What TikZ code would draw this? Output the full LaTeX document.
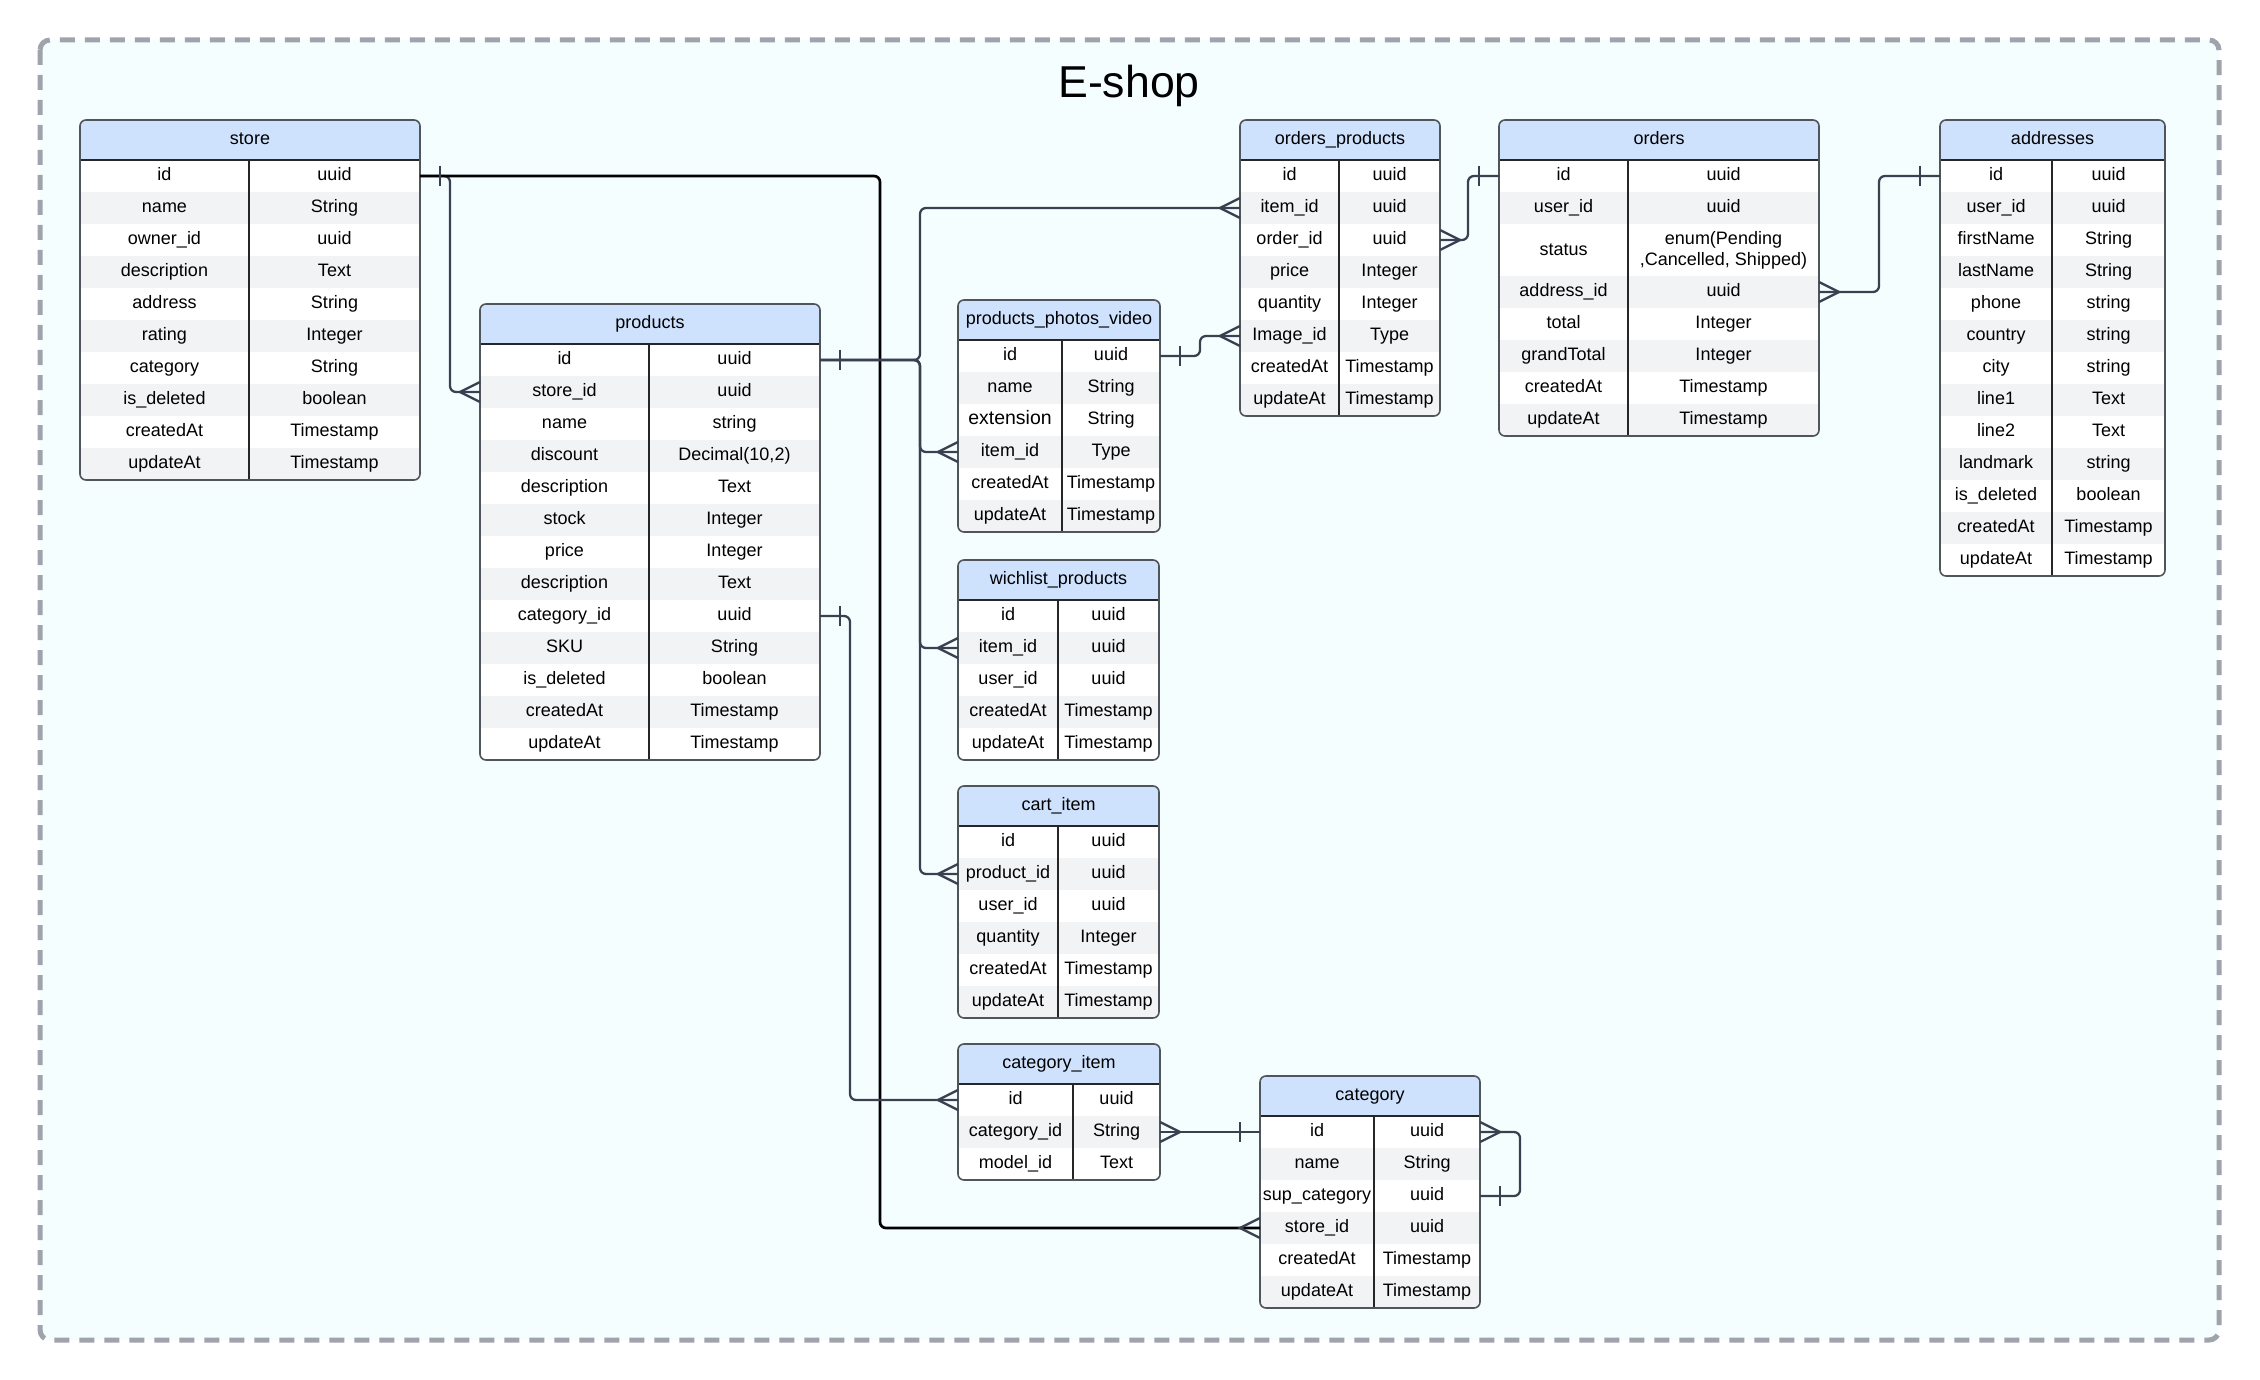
\documentclass[tikz,border=0pt]{standalone}
\usepackage{fontspec}
\setmainfont{Liberation Sans}
\usetikzlibrary{calc}
\definecolor{hdr}{HTML}{CFE2FD}
\definecolor{rowg}{HTML}{F2F3F5}
\definecolor{tborder}{HTML}{50555C}
\definecolor{connc}{HTML}{394150}
\definecolor{framec}{HTML}{9FA3AB}
\definecolor{canvas}{HTML}{F5FEFF}
\tikzset{
  cell/.style={font=\fontsize{13.5}{16}\selectfont, inner sep=0pt, text height=10.5pt, text depth=3.5pt, text=black},
  cellml/.style={font=\fontsize{13.5}{15.75}\selectfont, inner sep=0pt, align=center, text=black},
  rowbox/.style={rectangle, inner sep=0pt, outer sep=0pt, draw=none},
  hdrline/.style={draw=black!85, line width=1.2pt},
  tableout/.style={draw=tborder, line width=1.2pt, rounded corners=4.5pt},
  connl/.style={draw=connc, line width=1.7pt, rounded corners=4.5pt},
  blackl/.style={draw=black, line width=2pt, rounded corners=4.5pt},
  crowline/.style={draw=connc, line width=1.7pt},
  titletext/.style={font=\fontsize{33.5}{40}\selectfont, inner sep=0pt, text=black}
}
% #1 name #2 title #3 xl #4 xr #5 xd #6 ytop #7 ybot #8 list key/type/height
\newcommand\ertable[8]{%
  \xdef\erY{\the\numexpr#6+40\relax}%
  \begin{scope}
    \clip[rounded corners=4.5pt] (#3,#6) rectangle (#4,#7);
    \fill[hdr] (#3,#6) rectangle (#4,#6+40);
    \foreach \k/\t/\h [count=\i] in {#8} {%
      \ifodd\i\def\rowfill{white}\else\def\rowfill{rowg}\fi
      \ifnum\h>40 \def\cst{cellml}\else\def\cst{cell}\fi
      \fill[\rowfill] (#3,\erY) rectangle (#4,\erY+\h);
      \pgfmathsetmacro\rw{(#4-#3)*0.75}%
      \pgfmathsetmacro\rh{\h*0.75}%
      \node[rowbox, minimum width=\rw pt, minimum height=\rh pt] (#1-\i) at ({(#3+#4)/2},{\erY+\h/2}) {};
      \node[\cst] (#1-\i-k) at ({(#3+#5)/2},{\erY+\h/2}) {\k};
      \node[\cst] (#1-\i-t) at ({(#5+#4)/2},{\erY+\h/2}) {\t};
      \xdef\erY{\the\numexpr\erY+\h\relax}%
    }
  \end{scope}
  \node[cell] (#1-h) at ({(#3+#4)/2},{#6+20}) {#2};
  \draw[hdrline] (#3,#6+40) -- (#4,#6+40);
  \draw[hdrline] (#5,#6+40) -- (#5,#7);
  \draw[tableout] (#3,#6) rectangle (#4,#7);
}
\newcommand\ercrow[2]{\draw[crowline] ($(#1)+(0,-10)$) -- ($(#1)+(#2*20,0)$) -- ($(#1)+(0,10)$);}
\newcommand\erbar[2]{\draw[crowline] ($(#1)+(#2*20,-10)$) -- ($(#1)+(#2*20,10)$);}
\newcommand\bigtxt[1]{{\fontsize{14.6}{16}\selectfont #1}}
\begin{document}
\begin{tikzpicture}[x=0.75pt,y=-0.75pt]
\useasboundingbox (0,0) rectangle (2260,1380);
\fill[white] (0,0) rectangle (2260,1380);
\draw[draw=framec, fill=canvas, line width=3.75pt, dash pattern=on 11.25pt off 7.5pt, rounded corners=7.5pt] (40,40) rectangle (2219,1340);
\node[titletext, anchor=base] (title) at (1129,98) {E-shop};

\ertable{store}{store}{80}{420}{249}{120}{480}{id/uuid/32,name/String/32,owner\_id/uuid/32,description/Text/32,address/String/32,rating/Integer/32,category/String/32,is\_deleted/boolean/32,createdAt/Timestamp/32,updateAt/Timestamp/32}

\ertable{products}{products}{480}{820}{649}{304}{760}{id/uuid/32,store\_id/uuid/32,name/string/32,discount/{Decimal(10,2)}/32,description/Text/32,stock/Integer/32,price/Integer/32,description/Text/32,category\_id/uuid/32,SKU/String/32,is\_deleted/boolean/32,createdAt/Timestamp/32,updateAt/Timestamp/32}

\ertable{op}{orders\_products}{1240}{1440}{1339}{120}{416}{id/uuid/32,item\_id/uuid/32,order\_id/uuid/32,price/Integer/32,quantity/Integer/32,Image\_id/Type/32,createdAt/Timestamp/32,updateAt/Timestamp/32}

\ertable{orders}{orders}{1499}{1819}{1628}{120}{436}{id/uuid/32,user\_id/uuid/32,status/{enum(Pending\\,Cancelled, Shipped)}/52,address\_id/uuid/32,total/Integer/32,grandTotal/Integer/32,createdAt/Timestamp/32,updateAt/Timestamp/32}

\ertable{addr}{addresses}{1940}{2165}{2052}{120}{576}{id/uuid/32,user\_id/uuid/32,firstName/String/32,lastName/String/32,phone/string/32,country/string/32,city/string/32,line1/Text/32,line2/Text/32,landmark/string/32,is\_deleted/boolean/32,createdAt/Timestamp/32,updateAt/Timestamp/32}

\ertable{ppv}{products\_photos\_video}{958}{1160}{1062}{300}{532}{id/uuid/32,name/String/32,\bigtxt{extension}/String/32,item\_id/Type/32,createdAt/Timestamp/32,updateAt/Timestamp/32}

\ertable{wl}{wichlist\_products}{958}{1159}{1058}{560}{760}{id/uuid/32,item\_id/uuid/32,user\_id/uuid/32,createdAt/Timestamp/32,updateAt/Timestamp/32}

\ertable{cart}{cart\_item}{958}{1159}{1058}{786}{1018}{id/uuid/32,product\_id/uuid/32,user\_id/uuid/32,quantity/Integer/32,createdAt/Timestamp/32,updateAt/Timestamp/32}

\ertable{ci}{category\_item}{958}{1160}{1073}{1044}{1180}{id/uuid/32,category\_id/String/32,model\_id/Text/32}

\ertable{category}{category}{1260}{1480}{1374}{1076}{1308}{id/uuid/32,name/String/32,sup\_category/uuid/32,store\_id/uuid/32,createdAt/Timestamp/32,updateAt/Timestamp/32}

% store.id -> products.store_id and category.store_id
\draw[connl] (store-1.east) -- ++(30,0) |- (products-2.west);
\draw[blackl] (store-1.east) -- ++(460,0) |- (category-4.west);
\erbar{store-1.east}{1}
\ercrow{products-2.west}{-1}
\ercrow{category-4.west}{-1}

% products.id -> many
\foreach \tgt in {op-2,ppv-4,wl-2,cart-2}{
  \draw[connl] (products-1.east) -- ++(100,0) |- (\tgt.west);
  \ercrow{\tgt.west}{-1}
}
\erbar{products-1.east}{1}

% products.category_id -> category_item.id
\draw[connl] (products-9.east) -- ++(30,0) |- (ci-1.west);
\erbar{products-9.east}{1}
\ercrow{ci-1.west}{-1}

% ppv.id -> orders_products.Image_id
\draw[connl] (ppv-1.east) -- ++(40,0) |- (op-6.west);
\erbar{ppv-1.east}{1}
\ercrow{op-6.west}{-1}

% orders_products.order_id -> orders.id
\draw[connl] (op-3.east) -- ++(28,0) |- (orders-1.west);
\ercrow{op-3.east}{1}
\erbar{orders-1.west}{-1}

% orders.address_id -> addresses.id
\draw[connl] (orders-4.east) -- ++(60,0) |- (addr-1.west);
\ercrow{orders-4.east}{1}
\erbar{addr-1.west}{-1}

% category_item.category_id -> category.id
\draw[connl] (ci-2.east) -- (category-1.west);
\ercrow{ci-2.east}{1}
\erbar{category-1.west}{-1}

% category.sup_category -> category.id
\draw[connl] (category-1.east) -- ++(40,0) |- (category-3.east);
\ercrow{category-1.east}{1}
\erbar{category-3.east}{1}
\end{tikzpicture}
\end{document}
